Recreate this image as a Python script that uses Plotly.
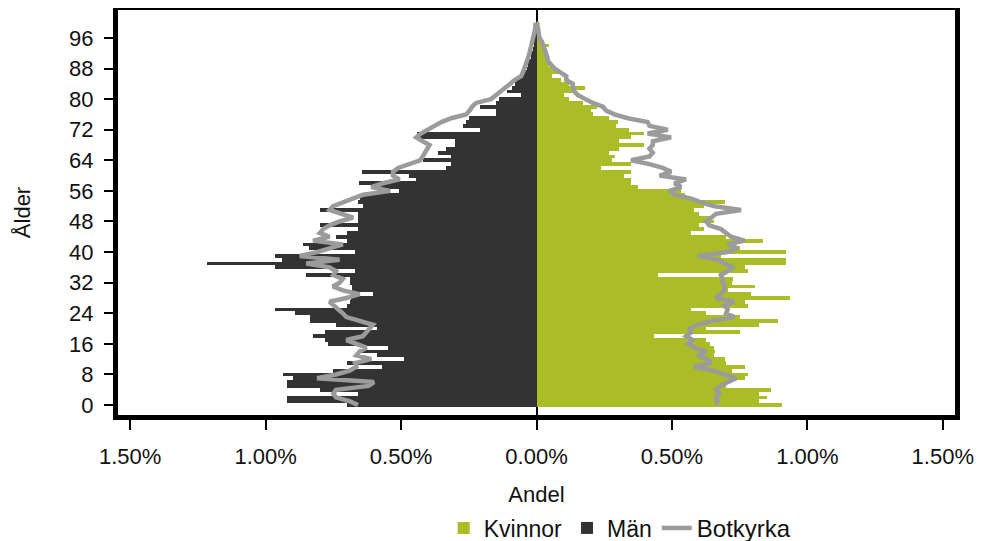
import plotly.graph_objects as go

ages = list(range(0, 101))

# Andel (%) per ålder – Män (bars, drawn to the left)
man = [0.70, 0.92, 0.92, 0.66, 0.80, 0.92, 0.92, 0.90, 0.935, 0.75,
       0.57, 0.70, 0.49, 0.59, 0.66, 0.55, 0.77, 0.78, 0.825, 0.78,
       0.59, 0.74, 0.836, 0.836, 0.893, 0.964, 0.70, 0.69, 0.686, 0.604,
       0.68, 0.68, 0.69, 0.69, 0.85, 0.67, 0.964, 1.215, 0.94, 0.964,
       0.67, 0.84, 0.862, 0.70, 0.74, 0.70, 0.66, 0.80, 0.66, 0.66,
       0.66, 0.80, 0.64, 0.66, 0.65, 0.64, 0.506, 0.59, 0.657, 0.446,
       0.47, 0.643, 0.333, 0.317, 0.42, 0.317, 0.364, 0.333, 0.30, 0.30,
       0.444, 0.44, 0.21, 0.273, 0.26, 0.25, 0.15, 0.15, 0.21, 0.15,
       0.137, 0.057, 0.11, 0.09, 0.081, 0.081, 0.05, 0.045, 0.035, 0.03,
       0.03, 0.02, 0.02, 0.012, 0.01, 0.008, 0.006, 0.004, 0.003, 0.002,
       0.001]

# Andel (%) per ålder – Kvinnor (bars, drawn to the right)
kvinnor = [0.907, 0.823, 0.85, 0.82, 0.864, 0.70, 0.70, 0.768, 0.78, 0.72,
           0.768, 0.70, 0.696, 0.657, 0.66, 0.657, 0.64, 0.627, 0.433, 0.75,
           0.627, 0.823, 0.89, 0.75, 0.627, 0.57, 0.78, 0.768, 0.934, 0.793,
           0.708, 0.808, 0.72, 0.725, 0.448, 0.78, 0.77, 0.921, 0.921, 0.68,
           0.921, 0.75, 0.73, 0.835, 0.70, 0.57, 0.62, 0.60, 0.657, 0.64,
           0.60, 0.583, 0.62, 0.696, 0.57, 0.55, 0.534, 0.376, 0.349, 0.349,
           0.322, 0.35, 0.239, 0.349, 0.277, 0.29, 0.266, 0.306, 0.398, 0.306,
           0.349, 0.398, 0.34, 0.294, 0.30, 0.266, 0.21, 0.20, 0.224, 0.17,
           0.12, 0.103, 0.14, 0.18, 0.12, 0.09, 0.057, 0.085, 0.06, 0.045,
           0.042, 0.035, 0.03, 0.025, 0.045, 0.015, 0.012, 0.01, 0.008, 0.005,
           0.008]

# Botkyrka reference line – men
botkyrka_man = [0.659, 0.69, 0.74, 0.75, 0.74, 0.62, 0.60, 0.81, 0.74, 0.69,
                0.665, 0.67, 0.61, 0.665, 0.653, 0.628, 0.665, 0.702, 0.641, 0.628,
                0.616, 0.604, 0.653, 0.702, 0.715, 0.733, 0.745, 0.764, 0.702, 0.653,
                0.715, 0.752, 0.727, 0.715, 0.75, 0.74, 0.764, 0.85, 0.727, 0.874,
                0.81, 0.764, 0.715, 0.825, 0.764, 0.80, 0.788, 0.764, 0.727, 0.677,
                0.715, 0.764, 0.751, 0.715, 0.677, 0.64, 0.54, 0.61, 0.567, 0.506,
                0.53, 0.53, 0.511, 0.469, 0.43, 0.42, 0.41, 0.40, 0.395, 0.42,
                0.444, 0.427, 0.40, 0.376, 0.351, 0.315, 0.26, 0.247, 0.238, 0.223,
                0.168, 0.15, 0.13, 0.112, 0.097, 0.081, 0.057, 0.05, 0.044, 0.04,
                0.035, 0.03, 0.026, 0.022, 0.018, 0.014, 0.011, 0.008, 0.006, 0.004,
                0.003]

# Botkyrka reference line – women
botkyrka_kvinnor = [0.663, 0.669, 0.663, 0.675, 0.663, 0.68, 0.706, 0.737, 0.694, 0.65,
                    0.58, 0.645, 0.632, 0.595, 0.626, 0.583, 0.559, 0.577, 0.552, 0.57,
                    0.565, 0.595, 0.645, 0.73, 0.70, 0.706, 0.694, 0.73, 0.663, 0.68,
                    0.694, 0.694, 0.688, 0.687, 0.681, 0.706, 0.724, 0.694, 0.669, 0.595,
                    0.706, 0.743, 0.706, 0.768, 0.718, 0.70, 0.681, 0.638, 0.626, 0.645,
                    0.663, 0.755, 0.657, 0.608, 0.571, 0.509, 0.49, 0.534, 0.509, 0.552,
                    0.454, 0.497, 0.466, 0.417, 0.349, 0.417, 0.429, 0.417, 0.429, 0.43,
                    0.497, 0.41, 0.485, 0.417, 0.41, 0.337, 0.288, 0.257, 0.245, 0.208,
                    0.177, 0.153, 0.14, 0.134, 0.134, 0.11, 0.11, 0.091, 0.066, 0.054,
                    0.042, 0.04, 0.036, 0.03, 0.024, 0.02, 0.011, 0.008, 0.005, 0.003,
                    0.002]

x_tick_vals = [-1.5, -1.0, -0.5, 0.0, 0.5, 1.0, 1.5]
x_tick_text = ["1.50%", "1.00%", "0.50%", "0.00%", "0.50%", "1.00%", "1.50%"]
y_tick_vals = list(range(0, 97, 8))

GREEN = "#aabd26"
DARK = "#333333"
GREY = "#9b9b9b"
FONT = "Liberation Sans, Arial, sans-serif"

fig = go.Figure()
fig.add_trace(go.Bar(
    y=ages, x=kvinnor, orientation="h", name="Kvinnor",
    marker=dict(color=GREEN, line=dict(width=0)), width=1,
))
fig.add_trace(go.Bar(
    y=ages, x=[-v for v in man], orientation="h", name="Män",
    marker=dict(color=DARK, line=dict(width=0)), width=1,
))
fig.add_trace(go.Scatter(
    y=ages, x=[-v for v in botkyrka_man], mode="lines",
    name="<span style='font-size:24px'>Botkyrka</span>",
    line=dict(color=GREY, width=4.5), legendgroup="bk", showlegend=True,
))
fig.add_trace(go.Scatter(
    y=ages, x=botkyrka_kvinnor, mode="lines", name="Botkyrka",
    line=dict(color=GREY, width=4.5), legendgroup="bk", showlegend=False,
))

fig.update_layout(
    width=974, height=533,
    margin=dict(l=110, r=27, t=2, b=126, autoexpand=False),
    barmode="overlay", bargap=0,
    plot_bgcolor="white", paper_bgcolor="white",
    font=dict(family=FONT, size=20, color="#111111"),
    showlegend=True,
    legend=dict(orientation="h", x=0.6, xanchor="center", y=-0.279, yanchor="middle",
                font=dict(size=23), itemwidth=30, traceorder="normal",
                bgcolor="rgba(0,0,0,0)"),
)
fig.update_xaxes(
    range=[-1.545, 1.545], tickvals=x_tick_vals, ticktext=x_tick_text,
    ticks="outside", ticklen=10, tickwidth=1.5, tickcolor="black",
    ticklabelstandoff=8,
    showline=True, linewidth=5, linecolor="black", mirror=True,
    showgrid=False, zeroline=True, zerolinecolor="black", zerolinewidth=1.5,
    tickfont=dict(size=22), layer="above traces", automargin=False,
    title=dict(text="Andel", font=dict(size=22), standoff=20),
)
fig.update_yaxes(
    range=[-2.6, 103.3], tickvals=y_tick_vals,
    ticks="outside", ticklen=9, tickwidth=1.5, tickcolor="black",
    ticklabelstandoff=6,
    showline=True, linewidth=5, linecolor="black", mirror=True,
    showgrid=False, zeroline=False, automargin=False,
    tickfont=dict(size=22),
    title=dict(text="Ålder", font=dict(size=22), standoff=34),
)

fig.write_html("out.html")
